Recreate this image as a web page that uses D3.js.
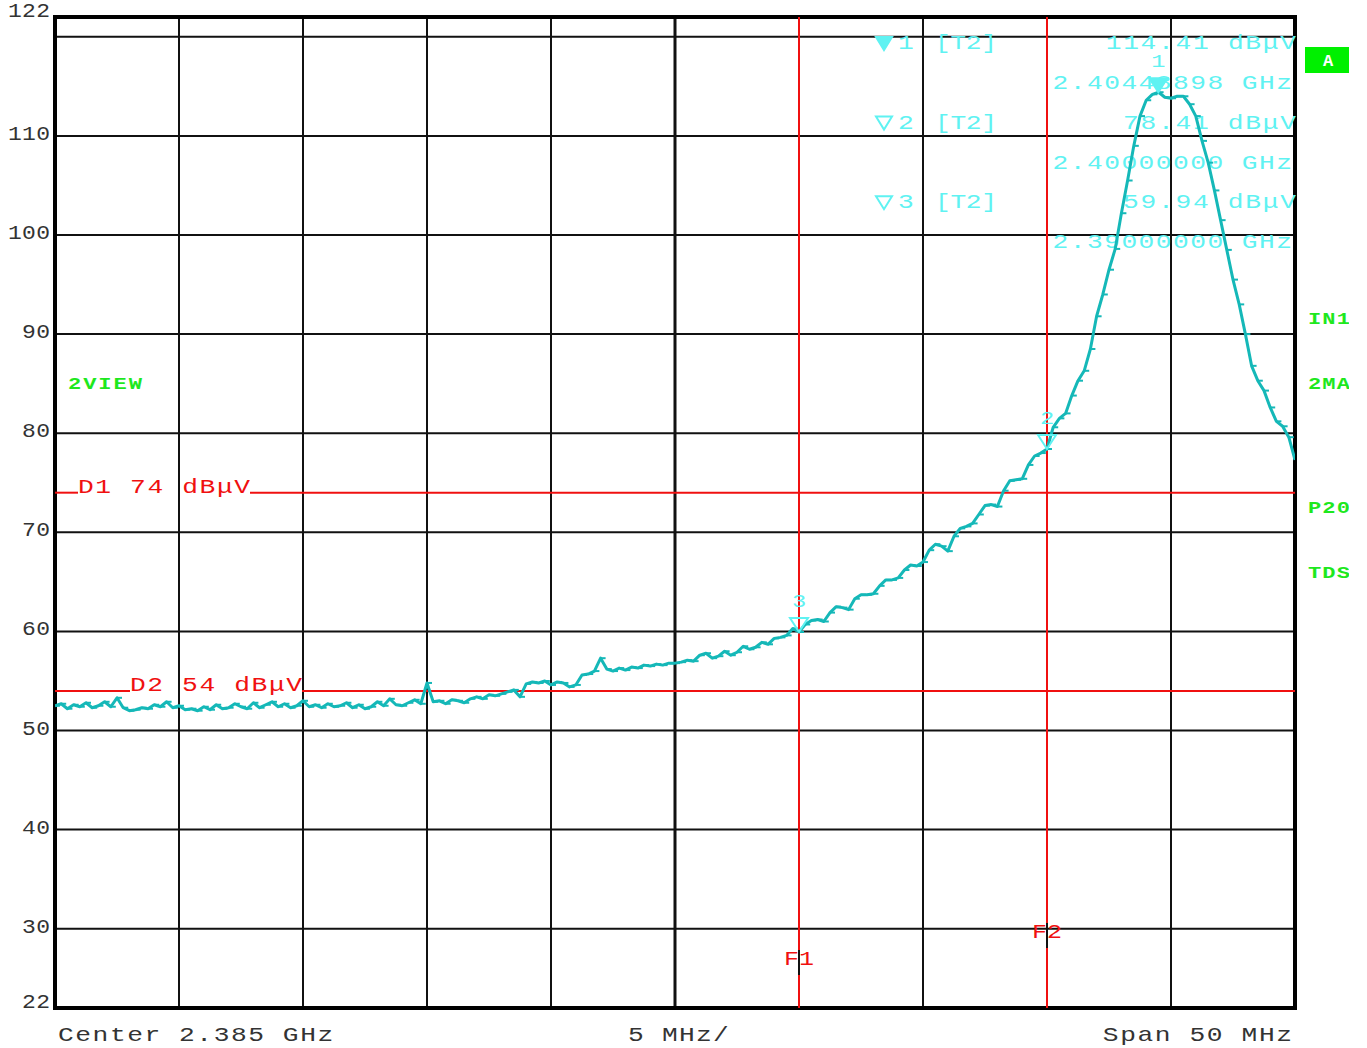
<!DOCTYPE html>
<html>
<head>
<meta charset="utf-8">
<script src="https://cdn.jsdelivr.net/npm/d3@7"></script>
<style>
  body { margin: 0; background: #fff; }
  svg { display: block; }
</style>
</head>
<body>
<svg id="chart" width="1367" height="1048"></svg>
<script>
// ---- sweep settings ----
const centerMHz = 2385;
const spanMHz = 50;
const sweepStartMHz = 2360;
const sweepStepMHz = 0.25;

// ---- trace levels (dBµV), one per sweep point ----
const levels = [
  52.5,52.7,52.2,52.6,52.4,52.8,52.3,52.5,52.9,52.4,53.3,52.3,52.0,52.1,52.3,52.2,52.6,52.4,52.9,52.3,52.5,
  52.1,52.2,52.0,52.4,52.1,52.6,52.2,52.3,52.7,52.4,52.2,52.8,52.3,52.6,52.9,52.4,52.7,52.3,52.5,53.0,
  52.4,52.6,52.3,52.7,52.4,52.5,52.8,52.3,52.6,52.2,52.4,52.9,52.5,53.2,52.6,52.5,52.8,53.1,52.7,54.8,
  52.9,53.0,52.7,53.1,53.0,52.8,53.2,53.4,53.2,53.6,53.5,53.7,53.9,54.1,53.4,
  54.7,54.9,54.8,55.0,54.6,54.9,54.8,54.4,54.6,
  55.6,55.7,56.0,57.3,56.2,56.0,56.3,56.1,56.4,56.3,56.6,56.5,56.7,56.6,56.8,56.8,
  56.9,57.1,57.0,57.6,57.8,57.3,57.5,58.0,57.6,57.9,58.5,58.2,58.4,58.9,58.7,59.3,59.4,59.6,60.3,59.94,
  60.7,61.1,61.2,61.0,61.9,62.5,62.4,62.2,63.3,63.7,63.7,63.8,64.6,65.2,65.2,65.4,66.2,66.7,66.6,67.0,
  68.2,68.8,68.6,68.1,69.6,70.4,70.6,70.9,71.8,72.7,72.8,72.6,74.2,75.2,75.3,75.4,76.8,77.7,78.0,78.41,
  80.6,81.5,82.0,83.8,85.3,86.3,88.5,91.8,94.0,96.5,98.6,102.2,105.5,109.0,112.0,113.6,114.2,114.41,113.9,113.8,
  114.0,114.0,113.2,112.0,109.5,107.3,104.5,101.5,98.5,95.5,93.0,90.0,86.8,85.3,84.3,82.6,81.2,80.7,79.6,77.3
];

// ---- axis labels ----
const yTickValues = [122, 110, 100, 90, 80, 70, 60, 50, 40, 30, 22];
const yGridValues = [120, 110, 100, 90, 80, 70, 60, 50, 40, 30];
const xGridValues = [2365, 2370, 2375, 2380, 2385, 2390, 2395, 2400, 2405];

// ---- markers ----
const markerIds = [1, 2, 3];
const markerFreqMHz = [2404.48898, 2400, 2390];
const markerLevels = [114.41, 78.41, 59.94];
const markerTrace = ["T2", "T2", "T2"];

// ---- display / frequency lines ----
const displayLineNames = ["D1", "D2"];
const displayLineLevels = [74, 54];
const freqLineNames = ["F1", "F2"];
const freqLineMHz = [2390, 2400];

// ---- status annotations ----
const sideLabels = ["IN1", "2MA", "P20", "TDS"];

const MONO = "'Liberation Mono', 'DejaVu Sans Mono', monospace";
const TRACE = "#15b8b8";
const CYAN = "#5ff2f2";
const RED = "#f01010";
const GREEN = "#1ee81e";

const svg = d3.select("#chart");
const x = d3.scaleLinear().domain([centerMHz - spanMHz / 2, centerMHz + spanMHz / 2]).range([55, 1295]);
const y = d3.scaleLinear().domain([22, 122]).range([1008, 17]);
const [x0, x1] = x.range();
const [yb, yt] = y.range();

// text with a fixed character pitch and widened glyphs (instrument-style lettering)
function pitchText(g, str, px, py, pitch, anchor, size, fill, weight, stretch) {
  const sx = stretch || 1.25;
  const w = pitch * str.length;
  let left = px;
  if (anchor === "end") left = px - w;
  else if (anchor === "middle") left = px - w / 2;
  return g.append("text")
    .attr("transform", `scale(${sx},1)`)
    .attr("x", left / sx).attr("y", py)
    .attr("textLength", w / sx).attr("lengthAdjust", "spacing")
    .attr("font-family", MONO).attr("font-size", size)
    .attr("font-weight", weight || "normal")
    .attr("fill", fill)
    .text(str);
}

svg.append("rect").attr("width", 1367).attr("height", 1048).attr("fill", "#fff");

// ---- grid ----
const grid = svg.append("g");
grid.selectAll("line.h").data(yGridValues).join("line")
  .attr("x1", x0).attr("x2", x1)
  .attr("y1", d => y(d)).attr("y2", d => y(d))
  .attr("stroke", "#111").attr("stroke-width", 2);
grid.selectAll("line.v").data(xGridValues).join("line")
  .attr("x1", d => x(d)).attr("x2", d => x(d))
  .attr("y1", yt).attr("y2", yb)
  .attr("stroke", "#111").attr("stroke-width", d => d === centerMHz ? 3 : 2);

svg.append("rect")
  .attr("x", x0).attr("y", yt).attr("width", x1 - x0).attr("height", yb - yt)
  .attr("fill", "none").attr("stroke", "#000").attr("stroke-width", 4);

// ---- display lines with inline labels ----
const dl = svg.append("g");
const dlLabelStart = [78, 130];
displayLineNames.forEach((name, i) => {
  const yy = y(displayLineLevels[i]);
  const label = `${name} ${displayLineLevels[i]} dBμV`;
  const pitch = 17.2;
  const ls = dlLabelStart[i];
  const le = ls + pitch * label.length;
  dl.append("line").attr("x1", x0).attr("x2", ls).attr("y1", yy).attr("y2", yy)
    .attr("stroke", RED).attr("stroke-width", 2);
  dl.append("line").attr("x1", le).attr("x2", x1).attr("y1", yy).attr("y2", yy)
    .attr("stroke", RED).attr("stroke-width", 2);
  pitchText(dl, label, ls, yy, pitch, "start", 21, RED);
});

// ---- frequency lines with a gap around the label ----
const fl = svg.append("g");
const flLabelBase = [965, 938];
freqLineNames.forEach((name, i) => {
  const xx = x(freqLineMHz[i]);
  const base = flLabelBase[i];
  fl.append("line").attr("x1", xx).attr("x2", xx).attr("y1", yt).attr("y2", base - 15)
    .attr("stroke", RED).attr("stroke-width", 2);
  fl.append("line").attr("x1", xx).attr("x2", xx).attr("y1", base + 10).attr("y2", yb)
    .attr("stroke", RED).attr("stroke-width", 2);
  pitchText(fl, name, xx, base, 15, "middle", 20, RED);
});

// ---- marker readout table ----
const info = svg.append("g");
markerIds.forEach((id, i) => {
  const base = 49 + i * 79.6;
  const cx = 884;
  info.append("path")
    .attr("d", `M${cx - 8},${base - 12} L${cx + 8},${base - 12} L${cx},${base + 1} Z`)
    .attr("stroke", CYAN).attr("stroke-width", 2)
    .attr("fill", i === 0 ? CYAN : "none");
  pitchText(info, String(id), 898, base, 15, "start", 21, CYAN);
  pitchText(info, `[${markerTrace[i]}]`, 935, base, 15.5, "start", 21, CYAN);
  pitchText(info, `${markerLevels[i].toFixed(2)} dBμV`, 1296, base, 17.3, "end", 21, CYAN);
  pitchText(info, `${(markerFreqMHz[i] / 1000).toFixed(8)} GHz`, 1292, base + 40, 17.1, "end", 21, CYAN);
});

// ---- trace ----
svg.append("clipPath").attr("id", "plot-clip")
  .append("rect").attr("x", x0).attr("y", yt).attr("width", x1 - x0).attr("height", yb - yt);
const traceData = levels.map((v, i) => ({ f: sweepStartMHz + i * sweepStepMHz, v }));
const traceG = svg.append("g").attr("clip-path", "url(#plot-clip)");
traceG.append("path")
  .datum(traceData)
  .attr("d", d3.line().x(d => x(d.f)).y(d => y(d.v)))
  .attr("fill", "none").attr("stroke", TRACE).attr("stroke-width", 3)
  .attr("stroke-linejoin", "round");
traceG.selectAll("line.tick").data(traceData).join("line")
  .attr("x1", d => x(d.f)).attr("x2", d => x(d.f) + 5)
  .attr("y1", d => y(d.v)).attr("y2", d => y(d.v))
  .attr("stroke", TRACE).attr("stroke-width", 2);

// ---- marker symbols on the trace ----
const mk = svg.append("g");
markerIds.forEach((id, i) => {
  const mx = x(markerFreqMHz[i]);
  const my = y(markerLevels[i]);
  mk.append("path")
    .attr("d", `M${mx - 9},${my - 14} L${mx + 9},${my - 14} L${mx},${my} Z`)
    .attr("stroke", CYAN).attr("stroke-width", 2)
    .attr("fill", i === 0 ? CYAN : "none");
  pitchText(mk, String(id), mx, my - 25, 14, "middle", 19, CYAN);
});

// ---- y axis labels ----
const yAxisG = svg.append("g");
yTickValues.forEach(v => {
  const edge = v === 122 || v === 22;
  pitchText(yAxisG, String(v), 50, y(v) + (edge ? 0 : 4), 14, "end", 20, "#333", null, 1.15);
});

// ---- bottom annotations ----
const bottom = svg.append("g");
pitchText(bottom, `Center ${(centerMHz / 1000).toFixed(3)} GHz`, 58, 1041, 17.2, "start", 21, "#333");
pitchText(bottom, `${spanMHz / 10} MHz/`, 628, 1041, 16.8, "start", 21, "#333");
pitchText(bottom, `Span ${spanMHz} MHz`, 1292, 1041, 17.2, "end", 21, "#333");

// ---- status annotations ----
const status = svg.append("g");
pitchText(status, "2VIEW", 68, 389, 14.8, "start", 17, GREEN, "bold", 1.3);
status.append("rect").attr("x", 1305).attr("y", 47).attr("width", 44).attr("height", 26).attr("fill", "#00f000");
status.append("text").attr("x", 1328).attr("y", 66).attr("text-anchor", "middle")
  .attr("font-family", MONO).attr("font-size", 17).attr("font-weight", "bold")
  .attr("fill", "#fff").text("A");
svg.append("clipPath").attr("id", "side-clip")
  .append("rect").attr("x", 1300).attr("y", 0).attr("width", 49).attr("height", 1048);
const side = svg.append("g").attr("clip-path", "url(#side-clip)");
const sideBaseY = [324, 389, 513, 578];
sideLabels.forEach((s, i) => {
  pitchText(side, s, 1308, sideBaseY[i], 14, "start", 17, GREEN, "bold", 1.3);
});
</script>
</body>
</html>
